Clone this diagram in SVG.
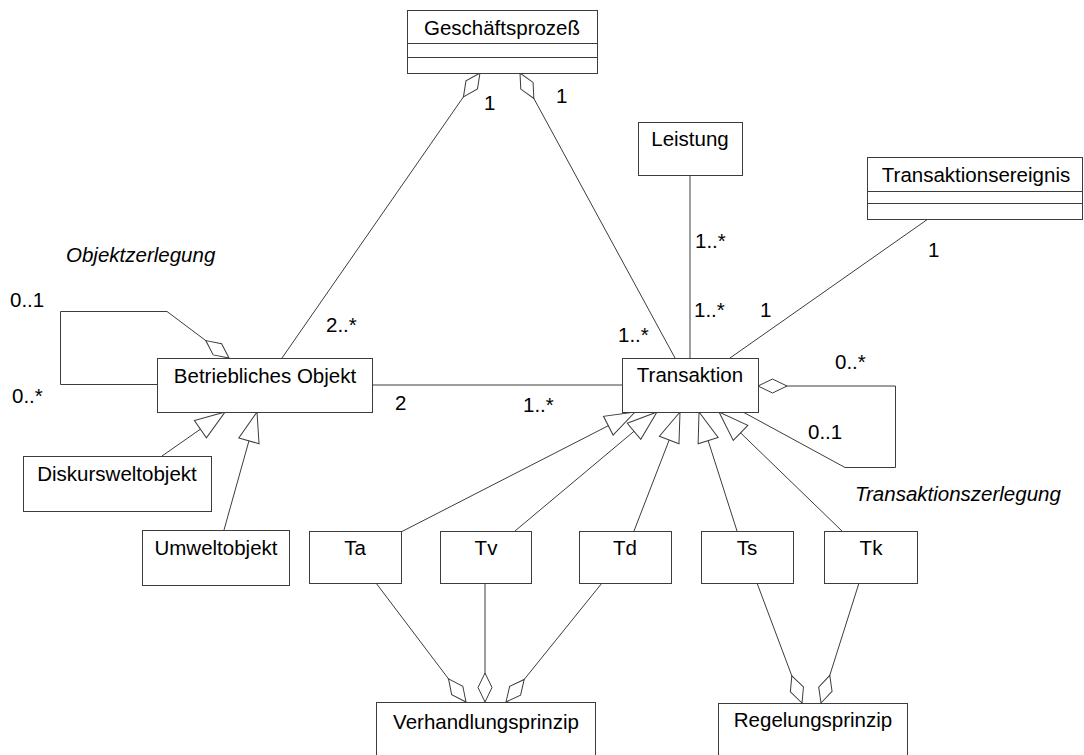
<svg xmlns="http://www.w3.org/2000/svg" width="1084" height="755" viewBox="0 0 1084 755">
  <style>
    .box { fill: #ffffff; stroke: #3c3c3c; stroke-width: 1; }
    .sep { stroke: #3c3c3c; stroke-width: 1; fill: none; }
    .edge { stroke: #3c3c3c; stroke-width: 1; fill: none; }
    .agg { marker-end: url(#diamond); }
    .gen { marker-end: url(#triangle); }
    text { font-family: "Liberation Sans", Arial, sans-serif; font-size: 20.5px; fill: #000000; }
    .name { text-anchor: middle; }
    .role { font-style: italic; }
  </style>
  <defs>
    <!-- hollow diamond for aggregation (whole side) -->
    <marker id="diamond" markerUnits="userSpaceOnUse" markerWidth="31" markerHeight="16" refX="29.5" refY="7.5" orient="auto" overflow="visible">
      <path d="M29.5,7.5 L15,0.5 L0.5,7.5 L15,14.5 Z" fill="#ffffff" stroke="#3c3c3c" stroke-width="1"/>
    </marker>
    <!-- hollow triangle for generalization -->
    <marker id="triangle" markerUnits="userSpaceOnUse" markerWidth="32" markerHeight="23" refX="30.5" refY="11" orient="auto" overflow="visible">
      <path d="M30.5,11 L0.5,0.5 L0.5,21.5 Z" fill="#ffffff" stroke="#3c3c3c" stroke-width="1"/>
    </marker>
  </defs>

  <!-- connectors -->
  <g id="connectors">
    <!-- Geschäftsprozeß aggregations -->
    <line class="edge agg" x1="282" y1="358" x2="480" y2="73"/>
    <line class="edge agg" x1="675" y1="358" x2="520" y2="73"/>
    <!-- Leistung / Transaktionsereignis -->
    <line class="edge" x1="690" y1="175" x2="690" y2="358"/>
    <line class="edge" x1="928" y1="219" x2="730" y2="358"/>
    <!-- Betriebliches Objekt – Transaktion -->
    <line class="edge" x1="372" y1="385" x2="622" y2="385"/>
    <!-- Objektzerlegung self-association -->
    <path class="edge agg" d="M157,384.5 H60.5 V311.5 H167 L229,358"/>
    <!-- Transaktionszerlegung self-association -->
    <path class="edge agg" d="M743,412 L845,467.5 H895.5 V386 H758"/>
    <!-- specializations of Betriebliches Objekt -->
    <line class="edge gen" x1="162" y1="456" x2="225" y2="412"/>
    <line class="edge gen" x1="224" y1="530" x2="257" y2="412"/>
    <!-- specializations of Transaktion -->
    <line class="edge gen" x1="401" y1="532" x2="635" y2="412"/>
    <line class="edge gen" x1="515" y1="531" x2="657" y2="412"/>
    <line class="edge gen" x1="634" y1="531" x2="680" y2="412"/>
    <line class="edge gen" x1="737" y1="531" x2="699" y2="412"/>
    <line class="edge gen" x1="842" y1="531" x2="719" y2="412"/>
    <!-- principle aggregations -->
    <line class="edge agg" x1="376" y1="583" x2="466" y2="702"/>
    <line class="edge agg" x1="485" y1="583" x2="485" y2="702"/>
    <line class="edge agg" x1="602" y1="583" x2="506" y2="702"/>
    <line class="edge agg" x1="757" y1="583" x2="802" y2="703"/>
    <line class="edge agg" x1="859" y1="583" x2="821" y2="703"/>
  </g>

  <!-- multiplicities and role names -->
  <g id="labels">
    <text x="484" y="110">1</text>
    <text x="556" y="103">1</text>
    <text x="695" y="248">1..*</text>
    <text x="694" y="317">1..*</text>
    <text x="760" y="317">1</text>
    <text x="928" y="257">1</text>
    <text x="835" y="369">0..*</text>
    <text x="808" y="439">0..1</text>
    <text x="326" y="332">2..*</text>
    <text x="395" y="410">2</text>
    <text x="523" y="412">1..*</text>
    <text x="618" y="342">1..*</text>
    <text x="10" y="307">0..1</text>
    <text x="12" y="403">0..*</text>
    <text class="role" x="66" y="262">Objektzerlegung</text>
    <text class="role" x="855" y="501">Transaktionszerlegung</text>
  </g>

  <!-- classes -->
  <g id="geschaeftsprozess">
    <rect class="box" x="407.5" y="10.5" width="190" height="63"/>
    <line class="sep" x1="407.5" y1="43.5" x2="597.5" y2="43.5"/>
    <line class="sep" x1="407.5" y1="57.5" x2="597.5" y2="57.5"/>
    <text class="name" x="502" y="35">Geschäftsprozeß</text>
  </g>
  <g id="leistung">
    <rect class="box" x="638.5" y="122.5" width="104" height="53"/>
    <text class="name" x="690" y="146">Leistung</text>
  </g>
  <g id="transaktionsereignis">
    <rect class="box" x="867.5" y="157.5" width="215" height="62"/>
    <line class="sep" x1="867.5" y1="191.5" x2="1082.5" y2="191.5"/>
    <line class="sep" x1="867.5" y1="203.5" x2="1082.5" y2="203.5"/>
    <text class="name" x="976" y="182">Transaktionsereignis</text>
  </g>
  <g id="betriebliches-objekt">
    <rect class="box" x="157.5" y="358.5" width="215" height="54"/>
    <text class="name" x="265" y="383">Betriebliches Objekt</text>
  </g>
  <g id="transaktion">
    <rect class="box" x="622.5" y="358.5" width="136" height="54"/>
    <text class="name" x="690" y="382">Transaktion</text>
  </g>
  <g id="diskursweltobjekt">
    <rect class="box" x="23.5" y="456.5" width="188" height="55"/>
    <text class="name" x="117" y="481">Diskursweltobjekt</text>
  </g>
  <g id="umweltobjekt">
    <rect class="box" x="142.5" y="530.5" width="147" height="55"/>
    <text class="name" x="216" y="555">Umweltobjekt</text>
  </g>
  <g id="ta">
    <rect class="box" x="309.5" y="531.5" width="92" height="52"/>
    <text class="name" x="355" y="555">Ta</text>
  </g>
  <g id="tv">
    <rect class="box" x="440.5" y="531.5" width="91" height="52"/>
    <text class="name" x="486" y="555">Tv</text>
  </g>
  <g id="td">
    <rect class="box" x="579.5" y="531.5" width="92" height="52"/>
    <text class="name" x="625" y="555">Td</text>
  </g>
  <g id="ts">
    <rect class="box" x="701.5" y="531.5" width="92" height="52"/>
    <text class="name" x="747" y="555">Ts</text>
  </g>
  <g id="tk">
    <rect class="box" x="824.5" y="531.5" width="93" height="52"/>
    <text class="name" x="871" y="555">Tk</text>
  </g>
  <g id="verhandlungsprinzip">
    <rect class="box" x="376.5" y="702.5" width="219" height="60"/>
    <text class="name" x="486" y="729">Verhandlungsprinzip</text>
  </g>
  <g id="regelungsprinzip">
    <rect class="box" x="718.5" y="703.5" width="189" height="60"/>
    <text class="name" x="813" y="727">Regelungsprinzip</text>
  </g>
</svg>
